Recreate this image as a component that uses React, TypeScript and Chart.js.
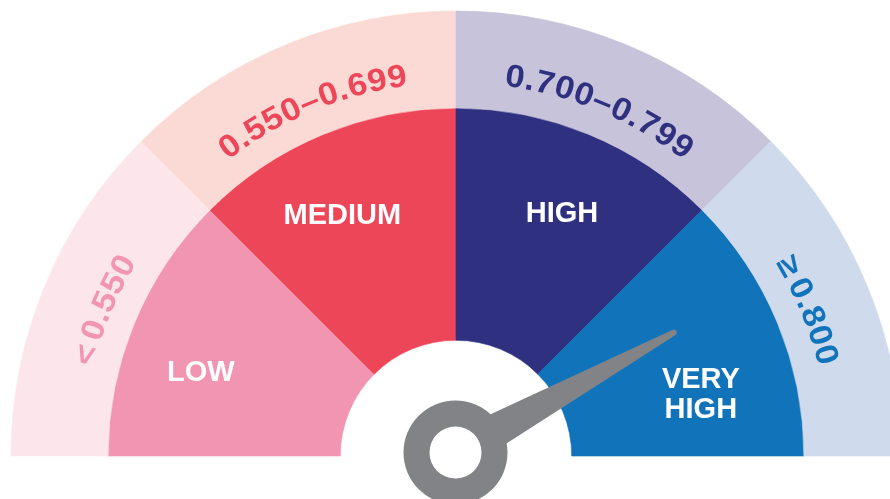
import React, { useEffect, useRef } from "react";
import { Chart, registerables } from "chart.js";

Chart.register(...registerables);

// ---- data ----
const CATEGORIES = ["LOW", "MEDIUM", "HIGH", "VERY HIGH"];
const RANGE_LABELS = ["< 0.550", "0.550\u20130.699", "0.700\u20130.799", "\u2265 0.800"];
const SEGMENT_SIZES = [1, 1, 1, 1];
const NEEDLE_VALUE = 3.36; // position on the gauge, in segment units (0..4)

// ---- styles ----
const INNER_COLORS = ["#F295B3", "#EE4659", "#2F3180", "#1174BB"];
const OUTER_COLORS = ["#FCE6EC", "#FBDAD5", "#C6C3DA", "#CFDAEC"];
const RANGE_TEXT_COLORS = ["#F295B3", "#EE4659", "#2F3180", "#1174BB"];
const NEEDLE_COLOR = "#818386";
const FONT_FAMILY = '"Liberation Sans", Arial, Helvetica, sans-serif';
const RANGE_FONT = `bold 32px ${FONT_FAMILY}`;
const RANGE_SCALE_X = 1.08;
// horizontal category labels: [angle from vertical (deg), radius (px)]
const CATEGORY_LABEL_POS: [number, number][] = [
  [-71.6, 269],
  [-25.1, 268],
  [23.5, 266],
  [75.4, 253],
];

function drawArcText(
  ctx: CanvasRenderingContext2D,
  text: string,
  cx: number,
  cy: number,
  r: number,
  mid: number,
  spacing: number,
  sx: number
) {
  const chars = Array.from(text);
  const widths = chars.map((c) => ctx.measureText(c).width * sx * (c === " " ? 0.45 : 1));
  const total = widths.reduce((a, b) => a + b, 0) + spacing * (chars.length - 1);
  let a = mid - total / 2 / r;
  chars.forEach((c, i) => {
    const w = widths[i];
    const ang = a + w / 2 / r;
    ctx.save();
    ctx.translate(cx + r * Math.sin(ang), cy - r * Math.cos(ang));
    ctx.rotate(ang);
    ctx.scale(sx, 1);
    ctx.textAlign = "center";
    ctx.textBaseline = "alphabetic";
    ctx.fillText(c, 0, 0);
    ctx.restore();
    a += (w + spacing) / r;
  });
}

const gaugeDecor = {
  id: "gaugeDecor",
  afterDatasetsDraw(chart: any) {
    const ctx: CanvasRenderingContext2D = chart.ctx;
    const outerMeta = chart.getDatasetMeta(0);
    const innerMeta = chart.getDatasetMeta(1);
    const arcs = outerMeta.data;
    if (!arcs.length) return;
    const cx = arcs[0].x;
    const cy = arcs[0].y;

    // range labels along the outer band
    ctx.save();
    ctx.font = RANGE_FONT;
    arcs.forEach((arc: any, i: number) => {
      const mid = (arc.startAngle + arc.endAngle) / 2 + Math.PI / 2;
      const rMid = (arc.innerRadius + arc.outerRadius) / 2;
      ctx.fillStyle = RANGE_TEXT_COLORS[i];
      drawArcText(ctx, RANGE_LABELS[i], cx, cy, rMid - 23, mid, 0.5, RANGE_SCALE_X);
    });
    ctx.restore();

    // category labels
    ctx.save();
    ctx.font = `bold 29px ${FONT_FAMILY}`;
    ctx.fillStyle = "#ffffff";
    ctx.textAlign = "center";
    ctx.textBaseline = "alphabetic";
    innerMeta.data.forEach((_arc: any, i: number) => {
      const [deg, r] = CATEGORY_LABEL_POS[i];
      const t = (deg * Math.PI) / 180;
      const x = cx + r * Math.sin(t);
      const y = cy - r * Math.cos(t);
      const words = CATEGORIES[i] === "VERY HIGH" ? ["VERY", "HIGH"] : [CATEGORIES[i]];
      const lh = 30;
      words.forEach((wd, k) => {
        const yy = y + (k - (words.length - 1) / 2) * lh + 10.4;
        ctx.fillText(wd, x, yy);
      });
    });
    ctx.restore();

    // needle
    const start = arcs[0].startAngle;
    const end = arcs[arcs.length - 1].endAngle;
    const total = SEGMENT_SIZES.reduce((a, b) => a + b, 0);
    const ang = start + (NEEDLE_VALUE / total) * (end - start);
    const nx = cx - 0.5;
    const ny = cy - 3.5;
    const len = 249;
    const baseHW = 20;
    const tipHW = 3;
    const ux = Math.cos(ang);
    const uy = Math.sin(ang);
    const px = -uy;
    const py = ux;
    ctx.save();
    ctx.fillStyle = NEEDLE_COLOR;
    ctx.beginPath();
    ctx.moveTo(nx + px * baseHW, ny + py * baseHW);
    ctx.lineTo(nx + ux * len + px * tipHW, ny + uy * len + py * tipHW);
    ctx.arc(nx + ux * len, ny + uy * len, tipHW, ang + Math.PI / 2, ang - Math.PI / 2, true);
    ctx.lineTo(nx - px * baseHW, ny - py * baseHW);
    ctx.closePath();
    ctx.fill();
    ctx.beginPath();
    ctx.arc(nx, ny, 52, 0, Math.PI * 2);
    ctx.fill();
    ctx.fillStyle = "#ffffff";
    ctx.beginPath();
    ctx.arc(nx, ny, 26, 0, Math.PI * 2);
    ctx.fill();
    ctx.restore();
  },
};

export default function App() {
  const ref = useRef<HTMLCanvasElement | null>(null);
  useEffect(() => {
    if (!ref.current) return;
    const chart = new Chart(ref.current, {
      type: "doughnut",
      data: {
        labels: CATEGORIES,
        datasets: [
          {
            data: SEGMENT_SIZES,
            backgroundColor: OUTER_COLORS,
            borderColor: OUTER_COLORS,
            borderWidth: 0.6,
            weight: 97,
          } as any,
          {
            data: SEGMENT_SIZES,
            backgroundColor: INNER_COLORS,
            borderColor: INNER_COLORS,
            borderWidth: 0.6,
            weight: 232,
          } as any,
        ],
      },
      options: {
        responsive: false,
        animation: false,
        events: [],
        rotation: -90,
        circumference: 180,
        cutout: "26%",
        radius: 445,
        layout: { padding: { left: 22, right: 0, top: 0, bottom: 32 } },
        plugins: {
          legend: { display: false },
          tooltip: { enabled: false },
        },
      } as any,
      plugins: [gaugeDecor],
    });
    return () => chart.destroy();
  }, []);
  return (
    <div style={{ position: "absolute", left: 0, top: 0, width: 890, height: 499, background: "#fff" }}>
      <canvas ref={ref} width={890} height={499} />
    </div>
  );
}
